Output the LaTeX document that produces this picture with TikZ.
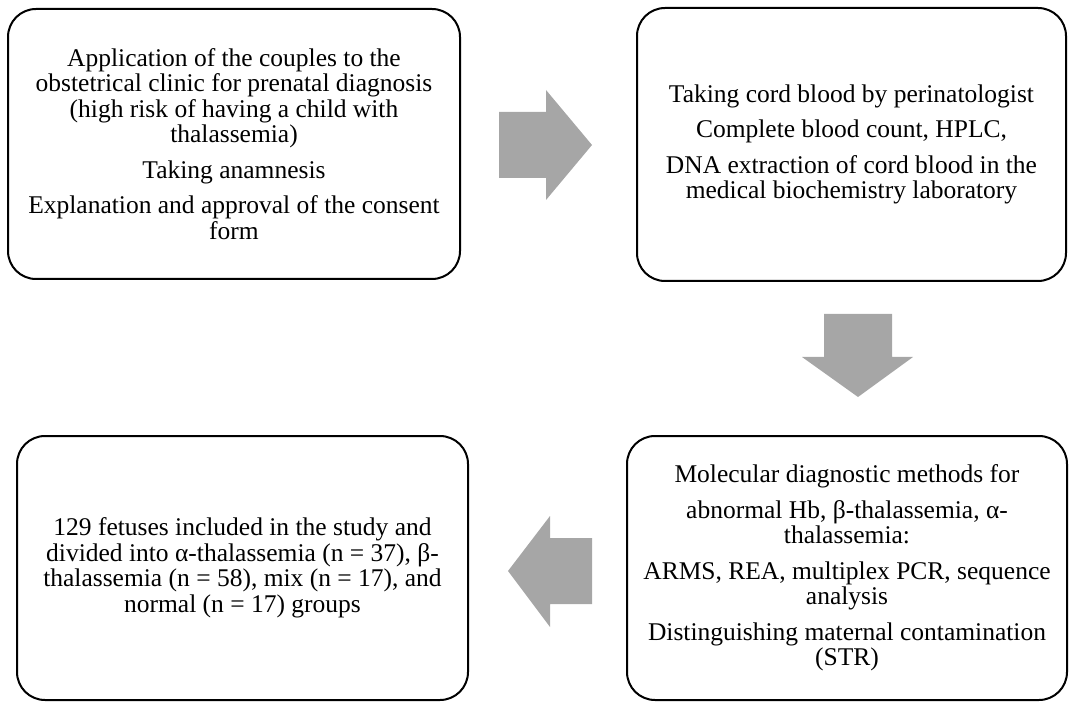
\documentclass[tikz,border=0pt]{standalone}
\usepackage{fontspec}
\setmainfont{Liberation Serif}
\definecolor{arrowgray}{HTML}{A6A6A6}
\tikzset{
  flowbox/.style={draw=black, line width=2pt, rounded corners=28pt, fill=white,
    align=center, inner sep=0pt, font=\fontsize{25.5}{25.5}\selectfont},
  blockarrow/.style={fill=arrowgray, draw=none}
}
\begin{document}
\begin{tikzpicture}[x=1pt,y=-1pt]
\useasboundingbox (0,0) rectangle (1074,703);
\node[flowbox, minimum width=452pt, minimum height=270pt] (b1) at (234,144) {%
Application of the couples to the\\
obstetrical clinic for prenatal diagnosis\\
(high risk of having a child with\\
thalassemia)\\[10pt]
Taking anamnesis\\[10pt]
Explanation and approval of the consent\\
form};
\node[flowbox, minimum width=429pt, minimum height=273pt] (b2) at (851.5,144.5) {%
Taking cord blood by perinatologist\\[10pt]
Complete blood count, HPLC,\\[10pt]
DNA extraction of cord blood in the\\
medical biochemistry laboratory};
\node[flowbox, minimum width=440pt, minimum height=264pt] (b3) at (847,568) {%
Molecular diagnostic methods for\\[10pt]
abnormal Hb, β-thalassemia, α-\\
thalassemia:\\[10pt]
ARMS, REA, multiplex PCR, sequence\\
analysis\\[10pt]
Distinguishing maternal contamination\\
(STR)};
\node[flowbox, minimum width=451pt, minimum height=264pt] (b4) at (242.5,568) {%
129 fetuses included in the study and\\
divided into α-thalassemia (n = 37), β-\\
thalassemia (n = 58), mix (n = 17), and\\
normal (n = 17) groups};
% block arrows
\fill[blockarrow] (499,112) -- (546,112) -- (546,90) -- (592,145) -- (546,200) -- (546,178) -- (499,178) -- cycle;
\fill[blockarrow] (824,314) -- (892,314) -- (892,357) -- (913,357) -- (858,397) -- (802,357) -- (824,357) -- cycle;
\fill[blockarrow] (592,538) -- (550,538) -- (550,516) -- (508,571) -- (550,627) -- (550,604) -- (592,604) -- cycle;
\end{tikzpicture}
\end{document}
